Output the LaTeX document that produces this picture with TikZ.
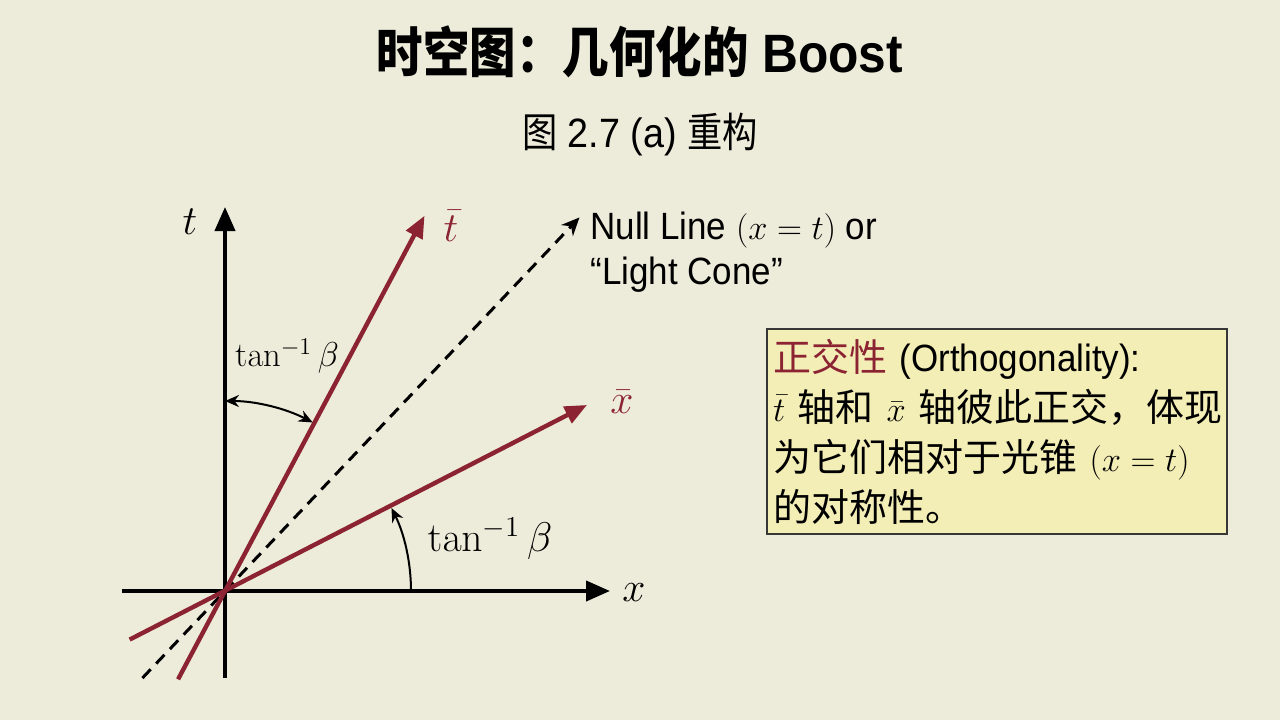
\documentclass[tikz,border=0pt]{standalone}
\usepackage[no-math]{fontspec}
\setmainfont{Liberation Sans}[FakeStretch=0.92]
\newfontfamily\cjk{Noto Sans CJK SC}
\newfontfamily\cjknarrow{Noto Sans CJK SC}[FakeStretch=0.86]
\usetikzlibrary{arrows.meta,calc}

\definecolor{bgbeige}{RGB}{237,235,218}
\definecolor{boostred}{RGB}{139,35,50}
\definecolor{notefill}{RGB}{243,237,182}
\definecolor{noteline}{RGB}{55,55,55}

\tikzset{
  axis/.style={line width=2pt, -{Triangle[length=12pt,width=10pt]}},
  boosted/.style={boostred, line width=2.2pt, -{Triangle[length=11pt,width=9pt]}},
  nullline/.style={line width=1.5pt, dash pattern=on 6pt off 4pt, -{Stealth[length=9pt,width=8pt]}},
  anglearc/.style={line width=1pt},
  axislabel/.style={font=\fontsize{20}{24}\selectfont},
  tanlabel/.style={font=\fontsize{17.5}{20}\selectfont},
  notebox/.style={draw=noteline, fill=notefill, line width=1pt, text width=224pt,
    inner xsep=3pt, minimum height=102.5pt, align=left,
    font=\cjk\fontsize{19}{25}\selectfont},
}

\begin{document}
\begin{tikzpicture}[x=0.5pt,y=0.5pt]

% Background and page size (1280 x 720 px)
\fill[bgbeige] (0,0) rectangle (1280,720);
\useasboundingbox (0,0) rectangle (1280,720);

% Title
\node[font=\fontsize{27}{30}\selectfont\bfseries] (title) at (640,668)
  {{\cjknarrow 时空图：几何化的} Boost};
\node[font=\fontsize{20.5}{24}\selectfont] (subtitle) at (640,585)
  {{\cjknarrow 图} 2.7 (a) {\cjknarrow 重构}};

% Origin of the diagram
\coordinate (O) at (225,129);

% Axis end points
\coordinate (tlow) at (225,42);
\coordinate (ttip) at (225,513);
\coordinate (xlow) at (122,129);
\coordinate (xtip) at (610,129);

% Boosted axes (angle tan^{-1} beta from t and x)
\coordinate (tbarlow) at ($(O)+(242:100)$);
\coordinate (tbartip) at ($(O)+(62:425)$);
\coordinate (xbarlow) at ($(O)+(207:107)$);
\coordinate (xbartip) at ($(O)+(27.2:407)$);

% Null line
\coordinate (nulllow) at ($(O)+(226.5:120)$);
\coordinate (nulltip) at ($(O)+(46.5:515)$);

% Draw axes
\draw[axis] (tlow) -- (ttip);
\draw[axis] (xlow) -- (xtip);

% Draw null line
\draw[nullline] (nulllow) -- (nulltip);

% Draw boosted axes
\draw[boosted] (tbarlow) -- (tbartip);
\draw[boosted] (xbarlow) -- (xbartip);

% Angle arcs
\draw[anglearc, {Stealth[length=7pt,width=6pt]}-{Stealth[length=7pt,width=6pt]}]
  ($(O)+(90:190)$) arc[start angle=90, end angle=62.5, radius=190];
\draw[anglearc, -{Stealth[length=7pt,width=6pt]}]
  ($(O)+(0:186)$) arc[start angle=0, end angle=26.5, radius=186];

% Labels
\node[axislabel] (tlabel) at (190,498) {$t$};
\node[axislabel, font=\fontsize{22}{24}\selectfont] (xlabel) at (634,127) {$x$};
\node[axislabel, text=boostred] (tbarlabel) at (451,494) {$\bar{t}$};
\node[axislabel, text=boostred] (xbarlabel) at (622,318) {$\bar{x}$};
\node[tanlabel] (tanup) at (287,364) {$\tan^{-1}\beta$};
\node[tanlabel, font=\fontsize{19.5}{22}\selectfont] (tanlow) at (490,181) {$\tan^{-1}\beta$};

% Null line caption
\node[anchor=north west, inner sep=0pt, align=left,
  font=\fontsize{19}{22.5}\selectfont] (nulltext) at (590,508)
  {Null Line $(x=t)$ or\\“Light Cone”};

% Orthogonality note
\node[notebox, anchor=north west] (ortho) at (766,392)
  {{\color{boostred}正交性}~{\rmfamily (Orthogonality):}\\
   $\bar{t}$~轴和~$\bar{x}$~轴彼此正交，体现\\
   为它们相对于光锥~$(x=t)$\\
   的对称性。};

\end{tikzpicture}
\end{document}
